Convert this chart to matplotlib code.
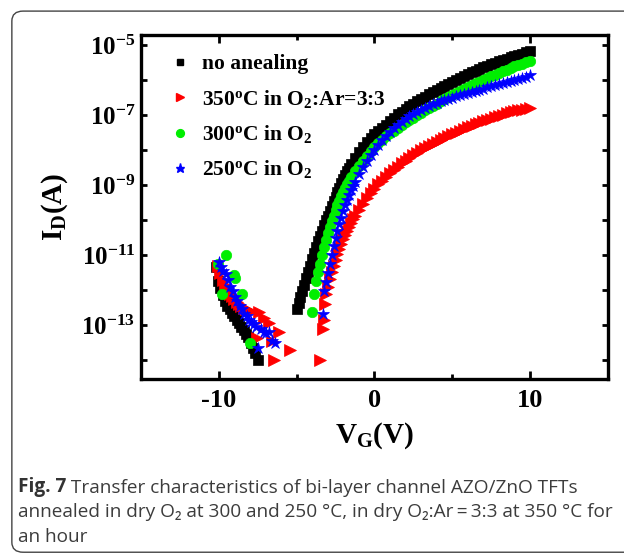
import numpy as np
import matplotlib.pyplot as plt
from matplotlib.lines import Line2D
from matplotlib.patches import FancyBboxPatch
from matplotlib.ticker import FixedLocator, FixedFormatter, NullLocator

plt.rcParams['font.family'] = 'Liberation Serif'
plt.rcParams['font.weight'] = 'bold'
plt.rcParams['axes.labelweight'] = 'bold'
plt.rcParams['mathtext.fontset'] = 'custom'
plt.rcParams['mathtext.rm'] = 'Liberation Serif:bold'
plt.rcParams['mathtext.it'] = 'Liberation Serif:italic:bold'
plt.rcParams['mathtext.bf'] = 'Liberation Serif:bold'

# gate voltage (V) and log10 of drain current (A)
# no annealing
v_none = [-10.2, -10.05, -9.9, -9.75, -9.6, -9.45, -9.3, -9.15, -9.0, -8.85,
          -8.7, -8.55, -8.4, -8.25, -8.1, -7.95, -7.8, -7.65, -7.5,
          -5.0, -4.875, -4.75, -4.625, -4.5, -4.375, -4.25, -4.125, -4.0, -3.875,
          -3.75, -3.625, -3.5, -3.375, -3.25, -3.125, -3.0, -2.875, -2.75, -2.625,
          -2.5, -2.375, -2.25, -2.125, -2.0, -1.875, -1.75, -1.625, -1.5,
          -1.25, -1.0, -0.75, -0.5, -0.25,
          0.0, 0.25, 0.5, 0.75, 1.0, 1.25, 1.5, 1.75, 2.0, 2.25,
          2.5, 2.75, 3.0, 3.25, 3.5, 3.75, 4.0, 4.25, 4.5, 4.75,
          5.0, 5.25, 5.5, 5.75, 6.0, 6.25, 6.5, 6.75, 7.0, 7.25,
          7.5, 7.75, 8.0, 8.25, 8.5, 8.75, 9.0, 9.25, 9.5, 9.75, 10.0]
log_none = [-11.35, -11.75, -11.95, -12.15, -12.3, -12.45, -12.55, -12.65, -12.75, -12.85,
            -12.95, -13.05, -13.15, -13.25, -13.35, -13.5, -13.65, -13.8, -14.0,
            -12.55, -12.38, -12.2, -12.02, -11.85, -11.66, -11.47, -11.3, -11.12, -10.95,
            -10.78, -10.61, -10.45, -10.3, -10.15, -10.01, -9.87, -9.73, -9.6, -9.46,
            -9.33, -9.2, -9.07, -8.94, -8.82, -8.71, -8.6, -8.5, -8.4,
            -8.22, -8.06, -7.91, -7.78, -7.66,
            -7.55, -7.45, -7.36, -7.27, -7.18, -7.08, -6.97, -6.9, -6.82, -6.75,
            -6.68, -6.61, -6.54, -6.48, -6.41, -6.35, -6.29, -6.23, -6.17, -6.11,
            -6.05, -6.0, -5.94, -5.89, -5.83, -5.78, -5.73, -5.68, -5.63, -5.59,
            -5.54, -5.5, -5.46, -5.43, -5.4, -5.35, -5.32, -5.28, -5.24, -5.2, -5.16]

# 350 C in O2:Ar = 3:3
v_350 = [-10.05, -9.9, -9.75, -9.6, -9.45, -9.3, -9.15, -9.0, -8.85, -8.7,
         -8.55, -8.4, -8.25, -8.1, -7.95, -7.55, -7.44, -7.1, -6.8, -6.58,
         -6.47, -6.15, -5.4, -3.5,
         -3.32, -3.26, -3.19, -3.09, -3.0, -2.875, -2.75, -2.625, -2.5, -2.375,
         -2.25, -2.125, -2.0, -1.875, -1.75, -1.625, -1.5, -1.375, -1.25, -1.0,
         -0.75, -0.5, -0.25,
         0.0, 0.25, 0.5, 0.75, 1.0, 1.25, 1.5, 1.75, 2.0, 2.25,
         2.5, 2.75, 3.0, 3.25, 3.5, 3.75, 4.0, 4.25, 4.5, 4.75,
         5.0, 5.25, 5.5, 5.75, 6.0, 6.25, 6.5, 6.75, 7.0, 7.25,
         7.5, 7.75, 8.0, 8.25, 8.5, 8.75, 9.0, 9.25, 9.5, 9.75, 10.0]
log_350 = [-11.3, -11.5, -11.7, -11.85, -12.0, -12.1, -12.18, -12.25, -12.33, -12.4,
           -12.45, -12.5, -12.55, -12.58, -12.6, -13.38, -12.62, -12.8, -12.95, -13.45,
           -14.0, -13.2, -13.7, -14.0,
           -13.1, -12.84, -12.4, -12.1, -11.9, -11.68, -11.48, -11.3, -11.13, -10.97,
           -10.82, -10.68, -10.55, -10.42, -10.3, -10.19, -10.08, -9.98, -9.88, -9.7,
           -9.53, -9.37, -9.23,
           -9.1, -8.98, -8.87, -8.76, -8.66, -8.56, -8.47, -8.38, -8.3, -8.22,
           -8.15, -8.08, -8.01, -7.94, -7.88, -7.82, -7.76, -7.7, -7.65, -7.6,
           -7.55, -7.5, -7.45, -7.4, -7.35, -7.31, -7.26, -7.22, -7.18, -7.14,
           -7.1, -7.06, -7.02, -6.99, -6.95, -6.92, -6.89, -6.86, -6.84, -6.82, -6.8]

# 300 C in O2
v_300 = [-10.05, -9.8, -9.55, -9.05, -8.95, -8.5, -7.97,
         -4.0, -3.875, -3.75, -3.625, -3.5, -3.375, -3.25, -3.125, -3.0, -2.875,
         -2.75, -2.625, -2.5, -2.375, -2.25, -2.125, -2.0, -1.875, -1.75, -1.625,
         -1.5, -1.25, -1.0, -0.75, -0.5, -0.25,
         0.0, 0.25, 0.5, 0.75, 1.0, 1.25, 1.5, 1.75, 2.0, 2.25,
         2.5, 2.75, 3.0, 3.25, 3.5, 3.75, 4.0, 4.25, 4.5, 4.75,
         5.0, 5.25, 5.5, 5.75, 6.0, 6.25, 6.5, 6.75, 7.0, 7.25,
         7.5, 7.75, 8.0, 8.25, 8.5, 8.75, 9.0, 9.25, 9.5, 9.75, 10.0]
log_300 = [-11.25, -12.1, -11.0, -11.57, -11.65, -12.1, -13.52,
           -12.62, -12.1, -11.75, -11.48, -11.24, -11.0, -10.78, -10.58, -10.38, -10.2,
           -10.02, -9.87, -9.72, -9.58, -9.45, -9.32, -9.2, -9.09, -8.98, -8.88,
           -8.78, -8.6, -8.45, -8.3, -8.16, -8.03,
           -7.91, -7.8, -7.7, -7.61, -7.52, -7.44, -7.36, -7.28, -7.21, -7.14,
           -7.07, -7.0, -6.93, -6.86, -6.8, -6.73, -6.67, -6.6, -6.54, -6.48,
           -6.42, -6.36, -6.31, -6.25, -6.2, -6.14, -6.09, -6.04, -5.99, -5.94,
           -5.89, -5.84, -5.79, -5.74, -5.7, -5.65, -5.61, -5.57, -5.53, -5.49, -5.45]

# 250 C in O2
v_250 = [-10.0, -9.85, -9.7, -9.55, -9.4, -9.25, -9.1, -8.95, -8.8, -8.65,
         -8.5, -8.35, -8.2, -8.05, -7.9, -7.75, -7.6, -7.45, -7.3, -7.1,
         -6.95, -6.8, -6.6, -6.4,
         -3.32, -3.22, -3.11, -3.0, -2.875, -2.75, -2.625, -2.5, -2.375, -2.25,
         -2.125, -2.0, -1.875, -1.75, -1.625, -1.5, -1.375, -1.25, -1.0,
         -0.75, -0.5, -0.25,
         0.0, 0.25, 0.5, 0.75, 1.0, 1.25, 1.5, 1.75, 2.0, 2.25,
         2.5, 2.75, 3.0, 3.25, 3.5, 3.75, 4.0, 4.25, 4.5, 4.75,
         5.0, 5.25, 5.5, 5.75, 6.0, 6.25, 6.5, 6.75, 7.0, 7.25,
         7.5, 7.75, 8.0, 8.25, 8.5, 8.75, 9.0, 9.25, 9.5, 9.75, 10.0]
log_250 = [-11.2, -11.35, -11.45, -11.55, -11.72, -11.9, -12.02, -12.2, -12.32, -12.45,
           -12.55, -12.68, -12.75, -12.85, -12.92, -12.98, -13.05, -13.65, -13.12, -13.2,
           -13.22, -13.2, -13.45, -13.52,
           -12.67, -12.03, -11.78, -11.5, -11.24, -11.0, -10.74, -10.52, -10.32, -10.12,
           -9.93, -9.75, -9.58, -9.42, -9.28, -9.14, -9.02, -8.9, -8.68,
           -8.48, -8.3, -8.14,
           -7.99, -7.85, -7.72, -7.6, -7.49, -7.38, -7.28, -7.19, -7.1, -7.03,
           -6.96, -6.9, -6.84, -6.79, -6.74, -6.69, -6.65, -6.61, -6.57, -6.53,
           -6.5, -6.46, -6.43, -6.39, -6.36, -6.33, -6.3, -6.27, -6.24, -6.21,
           -6.18, -6.15, -6.12, -6.09, -6.06, -6.03, -6.0, -5.97, -5.94, -5.9, -5.86]

labels = ['no anealing',
          r'350$^{\rm o}$C in O$_{\rm 2}$:Ar=3:3',
          r'300$^{\rm o}$C in O$_{\rm 2}$',
          r'250$^{\rm o}$C in O$_{\rm 2}$']
colors = ['black', 'red', '#00ee00', 'blue']
markers = ['s', '>', 'o', '*']
sizes = [6.5, 8, 7.5, 9]

xs = [v_none, v_350, v_300, v_250]
ys = [log_none, log_350, log_300, log_250]

fig = plt.figure(figsize=(6.24, 5.55), dpi=100)
ax = fig.add_axes([0.226, 0.317, 0.748, 0.62])

for x, y, c, m, s in zip(xs, ys, colors, markers, sizes):
    ax.plot(x, 10 ** np.array(y), ls='none', marker=m, ms=s, color=c, mec=c, mew=0.5)

ax.set_yscale('log')
ax.set_xlim(-15, 15)
ax.set_ylim(10 ** -14.54, 10 ** -4.71)

ax.set_xticks([-10, 0, 10])
ax.set_xticklabels(['-10', '0', '10'])
ax.set_xticks([-5, 5], minor=True)

dec = list(range(-14, -4))
ax.yaxis.set_major_locator(FixedLocator([10.0 ** d for d in dec]))
ax.yaxis.set_major_formatter(FixedFormatter(
    [r'$10^{%d}$' % d if d % 2 else '' for d in dec]))
ax.yaxis.set_minor_locator(NullLocator())

ax.tick_params(axis='both', which='major', direction='in', top=True, right=True,
               width=2, length=6, labelsize=19, pad=7)
ax.tick_params(axis='x', which='minor', direction='in', top=True,
               width=2, length=3.5)
ax.tick_params(axis='y', which='major', length=4, labelsize=18, pad=4)
for sp in ax.spines.values():
    sp.set_linewidth(2.4)

ax.set_xlabel(r'V$_{\rm G}$(V)', fontsize=21, labelpad=6)
ax.set_ylabel(r'I$_{\rm D}$(A)', fontsize=21, labelpad=8)

handles = [Line2D([], [], ls='none', marker=m, color=c, mec=c, ms=s * 0.75)
           for c, m, s in zip(colors, markers, sizes)]
ax.legend(handles, labels, loc='upper left', bbox_to_anchor=(0.02, 1.0),
          frameon=False, fontsize=15.5, handlelength=1.0, handletextpad=0.5,
          labelspacing=0.62)

# caption box
box = FancyBboxPatch((0.019, 0.005), 1.2, 0.975, boxstyle='round,pad=0,rounding_size=0.018',
                     transform=fig.transFigure, fill=False, ec='#444444', lw=1.0)
fig.patches.append(box)

cap = ['Open Sans', 'Noto Sans', 'DejaVu Sans']
fs = 13.7
t1 = fig.text(0.029, 1 - 487 / 555, 'Fig. 7', family=cap, weight='bold',
              fontsize=fs, color='#333333', va='center')
ax.annotate(' Transfer characteristics of bi-layer channel AZO/ZnO TFTs',
            xy=(1, 0), xycoords=t1, va='bottom', family=cap, weight='normal',
            fontsize=fs, color='#3c3c3c', annotation_clip=False)
fig.text(0.029, 1 - 512 / 555,
         'annealed in dry O\u2082 at 300 and 250 \u00b0C, in dry O\u2082:Ar\u2009=\u20093:3 at 350 \u00b0C for',
         family=cap, weight='normal', fontsize=fs, color='#3c3c3c', va='center')
fig.text(0.029, 1 - 537 / 555, 'an hour', family=cap, weight='normal',
         fontsize=fs, color='#3c3c3c', va='center')

fig.savefig('out.png', dpi=100)
